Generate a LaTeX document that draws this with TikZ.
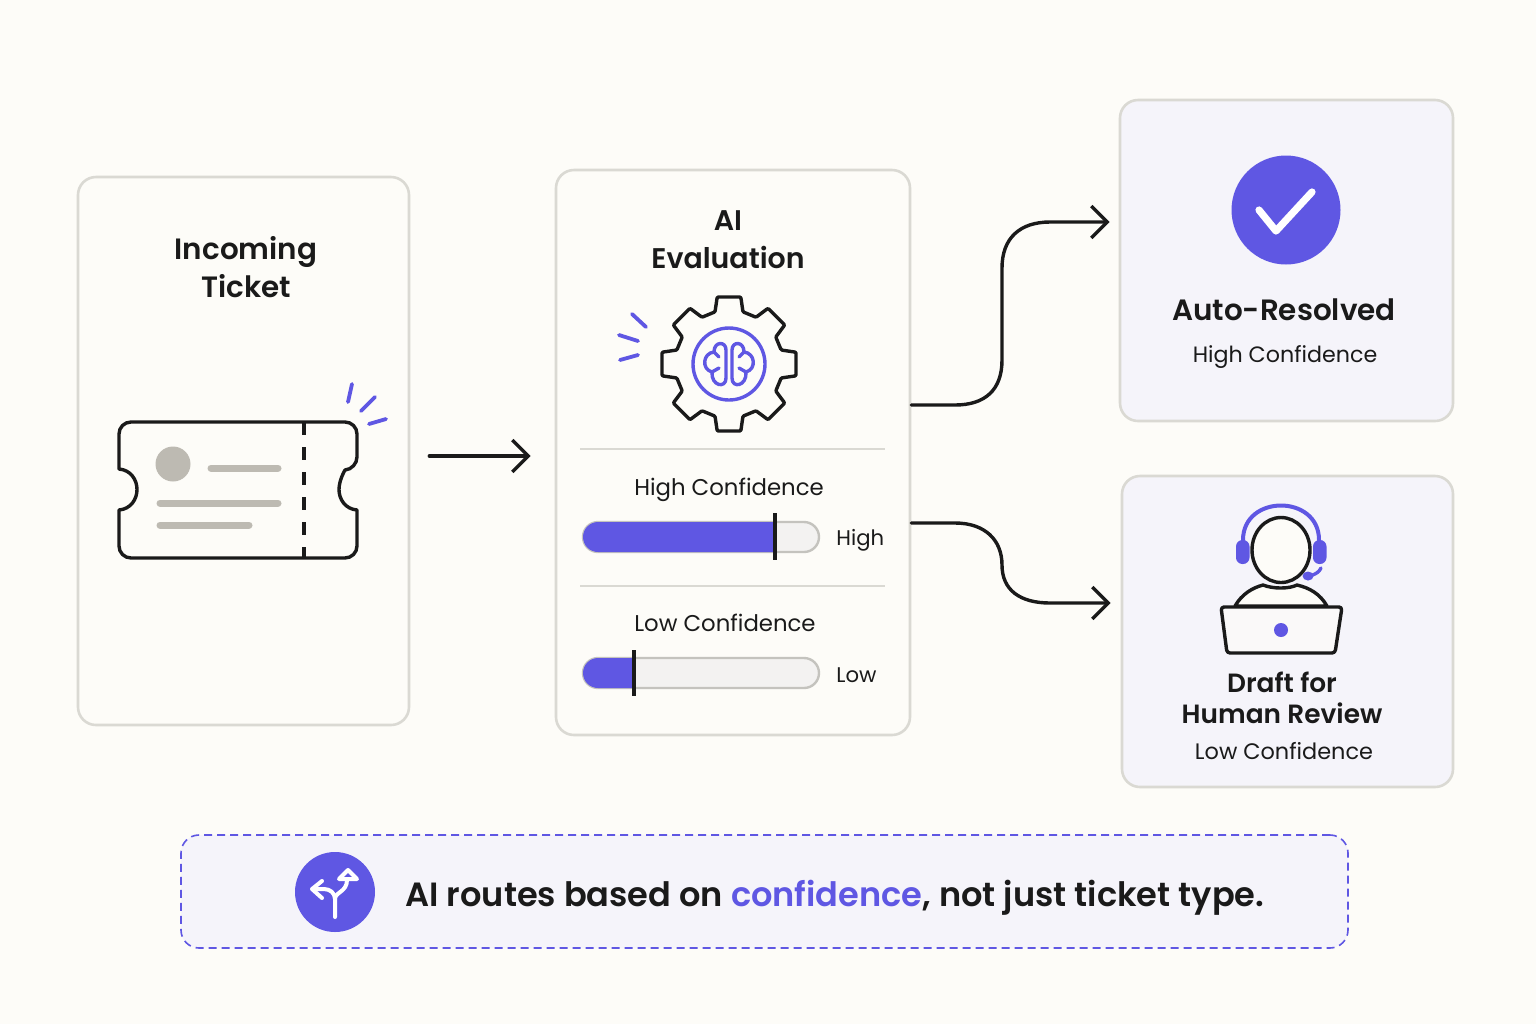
\documentclass[tikz,border=0pt]{standalone}
\usepackage{fontspec}
\setmainfont{Poppins}[BoldFont={Poppins SemiBold}]
\usetikzlibrary{arrows.meta}
\definecolor{paper}{HTML}{FDFCF8}
\definecolor{edgegrey}{HTML}{DAD9D3}
\definecolor{panelbg}{HTML}{F5F4FA}
\definecolor{violet}{HTML}{5F57E3}
\definecolor{ink}{HTML}{1A1A1A}
\definecolor{mute}{HTML}{BDBAB2}
\definecolor{trackbg}{HTML}{F3F2F1}
\newcommand{\fs}[1]{\fontsize{#1}{#1}\selectfont}
\begin{document}
\begin{tikzpicture}[x=0.5pt, y=-0.5pt, align=center, line join=round]
\tikzstyle{card} = [rectangle, draw=edgegrey, fill=paper, line width=1.3pt, rounded corners=9pt, inner sep=0pt]
\tikzstyle{panel} = [card, fill=panelbg]
\tikzstyle{head} = [text=ink, font=\bfseries\fs{14.7}, inner sep=0pt]
\tikzstyle{sub} = [text=ink, font=\fs{11.4}, inner sep=0pt]
\tikzstyle{flow} = [draw=ink, line width=1.7pt, line cap=round, -{Straight Barb[length=8pt,width=16pt]}]
\tikzstyle{ink2} = [draw=ink, line width=1.7pt, line cap=round]
\tikzstyle{vio} = [draw=violet, line width=1.7pt, line cap=round]
\tikzstyle{ray} = [vio, line width=1.9pt]
\tikzstyle{bar} = [draw=mute, line width=3.5pt, line cap=round]
\tikzstyle{track} = [draw=edgegrey!90!black, fill=trackbg, line width=1.2pt, rounded corners=7.5pt]
\tikzstyle{level} = [fill=violet, rounded corners=7.5pt]
\tikzstyle{mark2} = [draw=ink, line width=2pt]

\fill[paper] (0,0) rectangle (1536,1024);
\useasboundingbox (0,0) rectangle (1536,1024);

% cards
\node[card, minimum width=165.5pt, minimum height=274pt] (ticketcard) at (243.5,451) {};
\node[card, minimum width=177pt, minimum height=282.5pt] (evalcard) at (733,452.5) {};
\node[panel, minimum width=166.5pt, minimum height=160.5pt] (autocard) at (1286.5,260.5) {};
\node[panel, minimum width=165.5pt, minimum height=155.5pt] (humancard) at (1287.5,631.5) {};
\node[panel, dashed, draw=violet, line width=0.8pt, dash pattern=on 4pt off 2.5pt, minimum width=583.5pt, minimum height=56.5pt] (notecard) at (764.5,891.5) {};

% card titles
\node[head] (tickettitle) at (246,267) {Incoming\\[2.2pt]Ticket};
\node[head, font=\bfseries\fs{14.2}] (evaltitle) at (728,239.5) {AI\\[4.8pt]Evaluation};
\node[head] (autotitle) at (1284,310) {Auto-Resolved};
\node[sub, font=\fs{11.1}] (autosub) at (1285,357) {High Confidence};
\node[head, font=\bfseries\fs{13.2}] (humantitle) at (1282,698) {Draft for\\[2pt]Human Review};
\node[sub, font=\fs{11.2}] (humansub) at (1284,751) {Low Confidence};

% ticket
\draw[ink2, fill=paper, rounded corners=6pt] (119,469) -- (119,422) -- (357,422) -- (357,469) [sharp corners] .. controls (345,470) and (339,480) .. (339,489.5) .. controls (339,499) and (345,509) .. (357,510) [rounded corners=6pt] -- (357,558) -- (119,558) [sharp corners] -- (119,510) .. controls (131,509) and (137,499) .. (137,489.5) .. controls (137,480) and (131,470) .. (119,469) -- cycle;
\draw[ink2, line cap=butt, dash pattern=on 6.5pt off 6pt] (304,422) -- (304,558);
\fill[mute] (173,464) circle (17.5);
\draw[bar] (211,468) -- (278,468);
\draw[bar] (160,503) -- (278,503);
\draw[bar] (160,525) -- (249,525);
\draw[ray] (348,402) -- (352,384);
\draw[ray] (361,411) -- (375,397);
\draw[ray] (369,424) -- (386,419);

% gear with brain
\begin{scope}[shift={(729,364)}]
\draw[ink2, fill=paper, rounded corners=0.5pt] (-15:54)
  \foreach \a in {0,45,...,315} {
    -- (\a-15:54) -- (\a-10:68) -- (\a+10:68) -- (\a+15:54)
  } -- cycle;
\draw[vio] (0,0) circle (36);
\foreach \s in {1,-1} {
\begin{scope}[xscale=\s]
\draw[vio] (3,-14) .. controls (3,-23) and (15,-23) .. (15,-12) .. controls (26,-11) and (28,5) .. (17,8) .. controls (18,22) and (3,25) .. (3,14) -- cycle;
\draw[vio] (15,-12) -- (10,-7);
\draw[vio] (17,8) -- (10,4);
\end{scope}
}
\end{scope}
\draw[ray] (646,327) -- (632,314);
\draw[ray] (638,341) -- (619,335);
\draw[ray] (638,355) -- (620,360);

% confidence bars
\draw[draw=edgegrey, line width=1pt] (580,449) -- (885,449);
\draw[draw=edgegrey, line width=1pt] (580,586) -- (885,586);
\node[sub] (highlabel) at (729,490) {High Confidence};
\node[sub] (lowlabel) at (725,623) {Low Confidence};
\draw[track] (583,522) rectangle (819,552);
\fill[level] (775,552) [sharp corners] -- (775,522) [rounded corners=7.5pt] -- (583,522) -- (583,552) [sharp corners] -- cycle;
\draw[mark2] (775,513) -- (775,560);
\node[sub, anchor=west, font=\fs{10.6}] (hightag) at (836,540) {High};
\draw[track] (583,658) rectangle (819,688);
\fill[level] (634,688) [sharp corners] -- (634,658) [rounded corners=7.5pt] -- (583,658) -- (583,688) [sharp corners] -- cycle;
\draw[mark2] (634,650) -- (634,696);
\node[sub, anchor=west, font=\fs{10.6}] (lowtag) at (836,675) {Low};

% check
\node[circle, fill=violet, minimum size=54.5pt, inner sep=0pt] (checkdot) at (1286,210) {};
\draw[draw=white, line width=3.6pt, line cap=round] (1259,210) -- (1276,231) -- (1312,192);

% agent
\draw[ink2, fill=paper] (1235,606) .. controls (1242,594) and (1252,588) .. (1263,585) .. controls (1273,589) and (1289,589) .. (1297,585) .. controls (1310,588) and (1320,594) .. (1327,606) -- cycle;
\draw[vio, line width=2pt] (1243,540) .. controls (1243,494) and (1319,494) .. (1319,540);
\draw[ink2, fill=paper] (1281,550) ellipse (29 and 32.5);
\fill[violet, rounded corners=3.2pt] (1236,540) rectangle (1249.5,564);
\fill[violet, rounded corners=3.2pt] (1313,540) rectangle (1326.5,564);
\draw[vio] (1321,568) .. controls (1319,572) and (1316,574) .. (1311,575.5);
\fill[violet] (1308,576) ellipse (5.5 and 4.5);
\draw[ink2, fill=panelbg!40!paper, rounded corners=1.5pt] (1221,607) -- (1342,607) -- (1335,653) -- (1227,653) -- cycle;
\fill[violet] (1281,630) circle (7);

% arrows
\draw[flow, shorten <=9.5pt, shorten >=12pt] ([yshift=-2.5pt]ticketcard.east) -- ([yshift=-1.75pt]evalcard.west);
\draw[flow, shorten >=4.5pt] ([yshift=23.75pt]evalcard.east) -- (955,405) .. controls (985,405) and (1002,390) .. (1002,360) -- (1002,268) .. controls (1002,238) and (1020,222) .. (1050,222) -- ([yshift=19.25pt]autocard.west);
\draw[flow, shorten >=5pt] ([yshift=-35.25pt]evalcard.east) -- (955,523) .. controls (985,523) and (1002,540) .. (1002,565) .. controls (1002,590) and (1020,603) .. (1050,603) -- ([yshift=14.25pt]humancard.west);

% note
\node[circle, fill=violet, minimum size=40pt, inner sep=0pt] (routedot) at (335,892) {};
\draw[draw=white, line width=2pt, line cap=round] (335,917) -- (335,899) .. controls (335,893) and (330,889) .. (324,889) -- (313,889);
\draw[draw=white, line width=2pt, line cap=round] (322,881) -- (312,889) -- (322,898);
\draw[draw=white, line width=2pt, line cap=round] (335,899) .. controls (335,892) and (347,892) .. (347,880);
\draw[draw=white, line width=2pt] (339,879) -- (348,870) -- (357,879) -- cycle;
\node[head, anchor=west, font=\bfseries\fs{16.8}] (notetext) at (405,898) {AI routes based on \textcolor{violet}{confidence}, not just ticket type.};
\end{tikzpicture}
\end{document}
